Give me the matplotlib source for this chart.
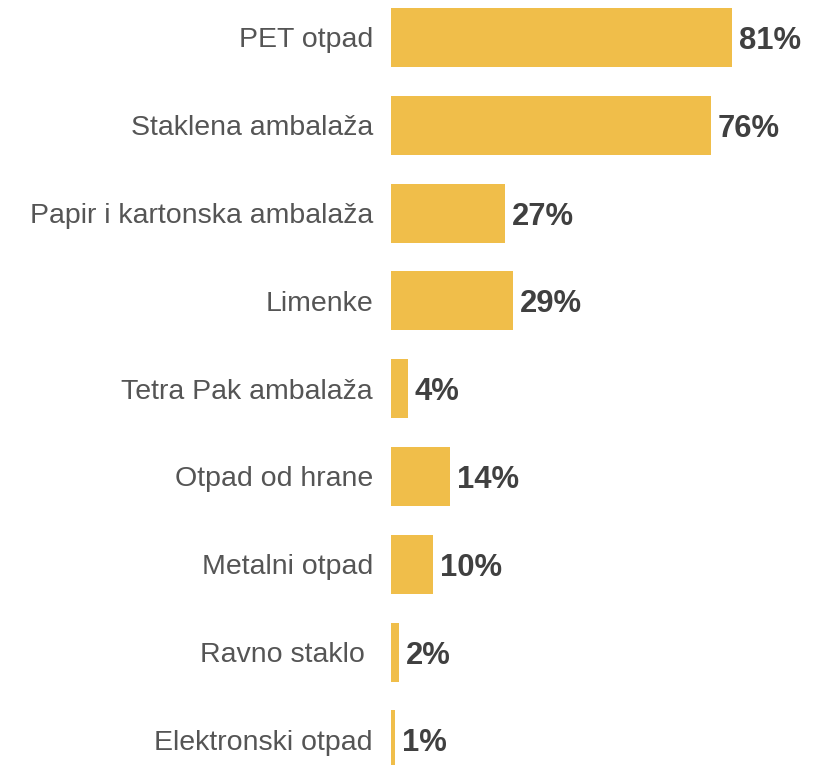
import matplotlib
matplotlib.use("Agg")
import matplotlib.pyplot as plt

plt.rcParams['font.family'] = ['Liberation Sans', 'DejaVu Sans']

categories = [
    "PET otpad",
    "Staklena ambalaža",
    "Papir i kartonska ambalaža",
    "Limenke",
    "Tetra Pak ambalaža",
    "Otpad od hrane",
    "Metalni otpad",
    "Ravno staklo ",
    "Elektronski otpad",
]
values = [81, 76, 27, 29, 4, 14, 10, 2, 1]
value_labels = ["81%", "76%", "27%", "29%", "4%", "14%", "10%", "2%", "1%"]

fig = plt.figure(figsize=(8.18, 7.65), dpi=100)
ax = fig.add_axes([391 / 818, 0, 427 / 818, 1])

y = list(range(len(categories)))
ax.barh(y, values, height=0.672, color="#F0BE4A")

ax.set_xlim(0, 427 / 4.21)
ax.set_ylim(8.286, -0.427)

ax.set_yticks(y)
ax.set_yticklabels(categories, fontsize=20.5, color="#555555")
ax.tick_params(axis="y", length=0, pad=13)
ax.set_xticks([])
for s in ax.spines.values():
    s.set_visible(False)

for yi, v, lab in zip(y, values, value_labels):
    ax.annotate(lab, (v, yi), xytext=(5, 0), textcoords="offset points",
                va="center_baseline", ha="left", fontsize=22.3,
                fontweight="bold", color="#404040")

fig.savefig("out.png", dpi=100)
